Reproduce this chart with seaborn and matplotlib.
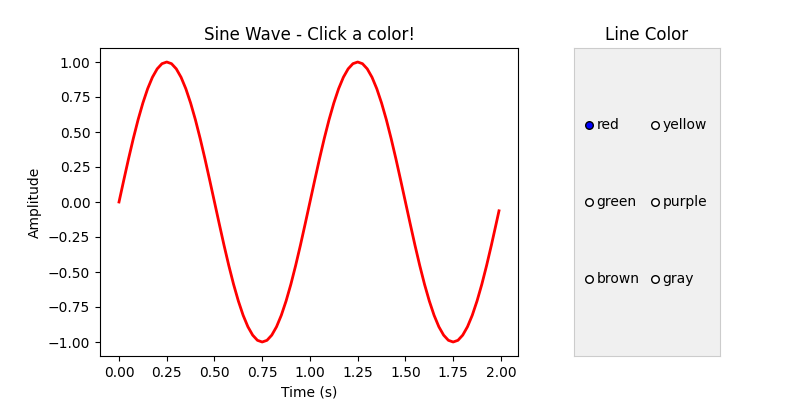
import matplotlib
matplotlib.use("Agg")
import matplotlib.pyplot as plt
import pandas as pd
import seaborn as sns

### Data (time in s, amplitude)
time_s = [0.0, 0.025, 0.05, 0.075, 0.1, 0.125, 0.15, 0.175, 0.2, 0.225,
          0.25, 0.275, 0.3, 0.325, 0.35, 0.375, 0.4, 0.425, 0.45, 0.475,
          0.5, 0.525, 0.55, 0.575, 0.6, 0.625, 0.65, 0.675, 0.7, 0.725,
          0.75, 0.775, 0.8, 0.825, 0.85, 0.875, 0.9, 0.925, 0.95, 0.975,
          1.0, 1.025, 1.05, 1.075, 1.1, 1.125, 1.15, 1.175, 1.2, 1.225,
          1.25, 1.275, 1.3, 1.325, 1.35, 1.375, 1.4, 1.425, 1.45, 1.475,
          1.5, 1.525, 1.55, 1.575, 1.6, 1.625, 1.65, 1.675, 1.7, 1.725,
          1.75, 1.775, 1.8, 1.825, 1.85, 1.875, 1.9, 1.925, 1.95, 1.975,
          1.99]
amplitude = [0.0, 0.156, 0.309, 0.454, 0.588, 0.707, 0.809, 0.891, 0.951, 0.988,
             1.0, 0.988, 0.951, 0.891, 0.809, 0.707, 0.588, 0.454, 0.309, 0.156,
             0.0, -0.156, -0.309, -0.454, -0.588, -0.707, -0.809, -0.891, -0.951, -0.988,
             -1.0, -0.988, -0.951, -0.891, -0.809, -0.707, -0.588, -0.454, -0.309, -0.156,
             0.0, 0.156, 0.309, 0.454, 0.588, 0.707, 0.809, 0.891, 0.951, 0.988,
             1.0, 0.988, 0.951, 0.891, 0.809, 0.707, 0.588, 0.454, 0.309, 0.156,
             0.0, -0.156, -0.309, -0.454, -0.588, -0.707, -0.809, -0.891, -0.951, -0.988,
             -1.0, -0.988, -0.951, -0.891, -0.809, -0.707, -0.588, -0.454, -0.309, -0.156,
             -0.063]

color_labels = ["red", "yellow", "green", "purple", "brown", "gray"]
active_label = "red"

df = pd.DataFrame({"Time (s)": time_s, "Amplitude": amplitude})

fig = plt.figure(figsize=(8, 4), dpi=100)
ax = fig.add_axes([0.125, 0.11, 0.5225, 0.77])

sns.lineplot(data=df, x="Time (s)", y="Amplitude", color="red", linewidth=2, ax=ax)
ax.set_title("Sine Wave - Click a color!")
ax.set_xticks([0.0, 0.25, 0.5, 0.75, 1.0, 1.25, 1.5, 1.75, 2.0])
ax.set_yticks([-1.0, -0.75, -0.5, -0.25, 0.0, 0.25, 0.5, 0.75, 1.0])

# radio-button panel
rax = fig.add_axes([0.7175, 0.11, 0.1825, 0.77])
rax.set_facecolor("#f0f0f0")
for sp in rax.spines.values():
    sp.set_color("#cccccc")
rax.set_xticks([])
rax.set_yticks([])
rax.set_xlim(0, 1)
rax.set_ylim(0, 1)
rax.set_title("Line Color")

col_x = [0.103, 0.555]
row_y = [0.75, 0.5, 0.25]
for i, lab in enumerate(color_labels):
    cx = col_x[i % 2]
    cy = row_y[i // 2]
    face = "blue" if lab == active_label else "white"
    rax.scatter([cx], [cy], s=30, facecolor=face, edgecolor="black", linewidth=1, zorder=3)
    rax.text(cx + 0.05, cy, lab, va="center", ha="left", fontsize=10)

plt.savefig("out.png", dpi=100)
